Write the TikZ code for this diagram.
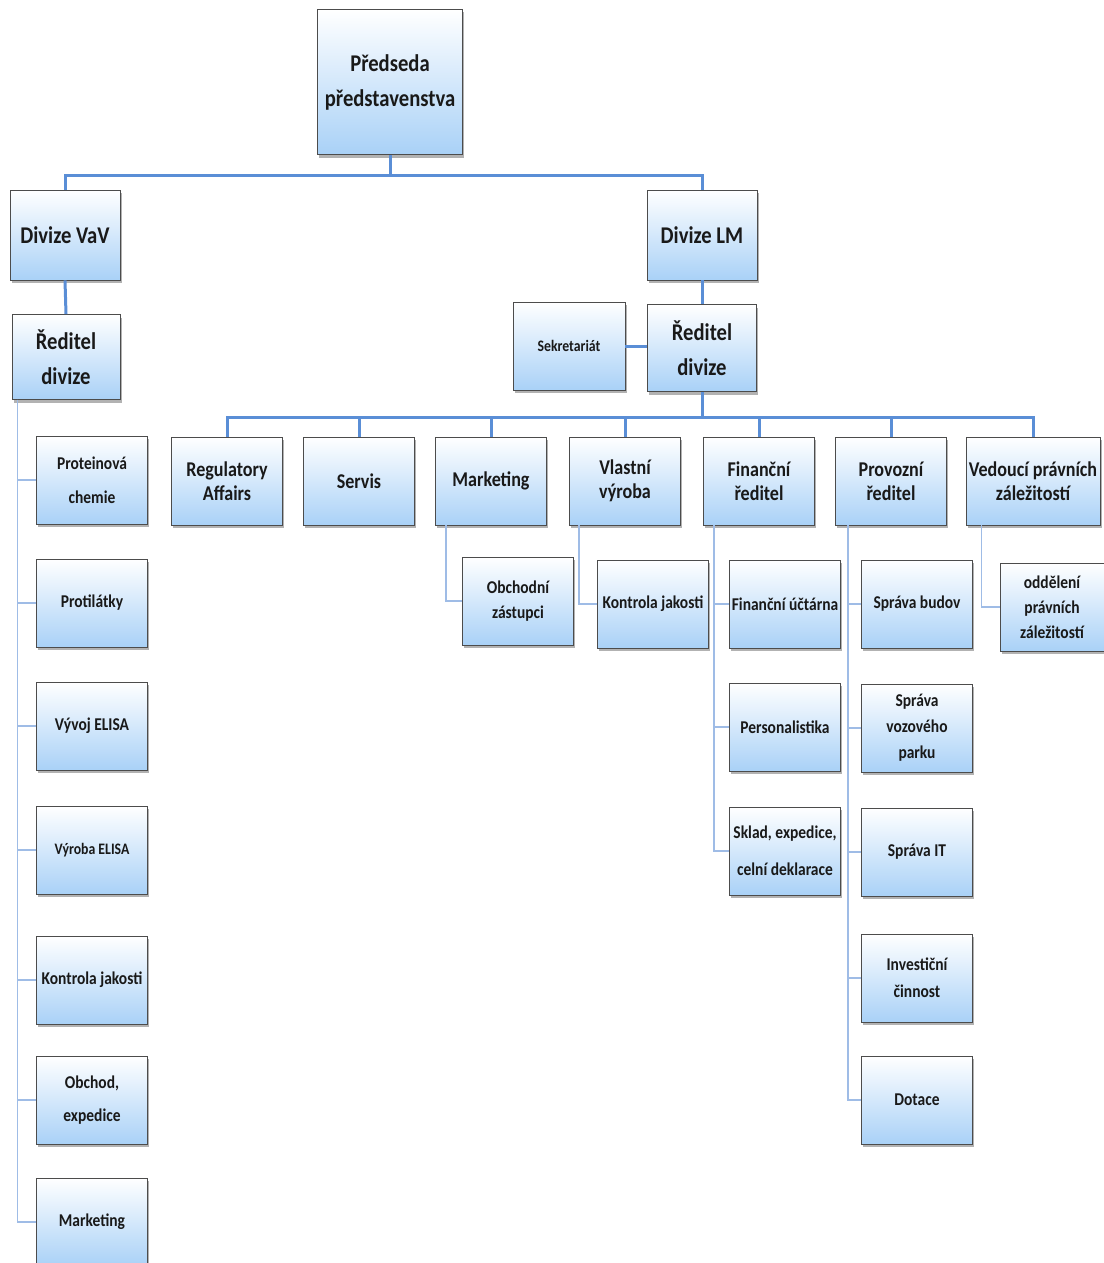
\documentclass[tikz,border=0pt]{standalone}
\usepackage{fontspec}
\setmainfont{Carlito}[FakeStretch=0.86]
\usetikzlibrary{shadows}
\definecolor{boxblue}{HTML}{A9D1F7}
\definecolor{linemain}{HTML}{5A8ED6}
\definecolor{linesub}{HTML}{9FBCE6}
\tikzset{
  orgbox/.style={draw=black!70, line width=0.9pt, top color=white, bottom color=boxblue,
    minimum width=111pt, minimum height=88pt, align=center, inner sep=1pt, text=black!90,
    drop shadow={shadow xshift=1.5pt, shadow yshift=-3pt, fill=black!55, opacity=0.55}},
  bigtxt/.style={font=\fontsize{24}{35}\selectfont\bfseries},
  midtxt/.style={font=\fontsize{21}{28}\selectfont\bfseries},
  subtxt/.style={font=\fontsize{18}{34}\selectfont\bfseries},
  tinytxt/.style={font=\fontsize{16}{20}\selectfont\bfseries},
  mainline/.style={draw=linemain, line width=3pt},
  subline/.style={draw=linesub, line width=1.6pt},
}
\begin{document}
\begin{tikzpicture}[x=1pt,y=-1pt]
\useasboundingbox (0,0) rectangle (1103,1263);

% top levels
\node[orgbox,bigtxt,minimum width=145pt,minimum height=145pt] (pred) at (390,82) {Předseda\\představenstva};
\node[orgbox,bigtxt,minimum width=110pt,minimum height=90pt] (vav) at (65,235) {Divize VaV};
\node[orgbox,bigtxt,minimum width=110pt,minimum height=90pt] (lm) at (702,235) {Divize LM};
\node[orgbox,bigtxt,minimum width=108pt,minimum height=85pt] (rdl) at (66,357) {Ředitel\\divize};
\node[orgbox,bigtxt,minimum width=109pt,minimum height=87pt] (rdr) at (702,348) {Ředitel\\divize};
\node[orgbox,tinytxt,minimum width=112pt,minimum height=88pt] (sek) at (569,346) {Sekretariát};

% second row under the LM director
\node[orgbox,midtxt] (ra)  at (227,481) {Regulatory\\[-4pt]Affairs};
\node[orgbox,midtxt] (ser) at (359,481) {Servis};
\node[orgbox,midtxt] (mkt) at (491,481) {Marketing};
\node[orgbox,midtxt] (vv)  at (625,481) {Vlastní\\[-4pt]výroba};
\node[orgbox,midtxt] (fr)  at (759,481) {Finanční\\[-4pt]ředitel};
\node[orgbox,midtxt] (pr)  at (891,481) {Provozní\\[-4pt]ředitel};
\node[orgbox,midtxt,minimum width=134pt] (ved) at (1033,481) {Vedoucí právních\\[-4pt]záležitostí};

% VaV departments
\node[orgbox,subtxt] (pch) at (92,480)  {Proteinová\\chemie};
\node[orgbox,subtxt] (ptl) at (92,603)  {Protilátky};
\node[orgbox,subtxt] (vje) at (92,726)  {Vývoj ELISA};
\node[orgbox,subtxt,font=\fontsize{16}{20}\selectfont\bfseries] (vye) at (92,850) {Výroba ELISA};
\node[orgbox,subtxt] (kjl) at (92,980)  {Kontrola jakosti};
\node[orgbox,subtxt,font=\fontsize{18}{33}\selectfont\bfseries] (obe) at (92,1100) {Obchod,\\expedice};
\node[orgbox,subtxt] (mkl) at (92,1222) {Marketing};

% LM departments
\node[orgbox,subtxt,font=\fontsize{18}{25}\selectfont\bfseries] (oz)  at (518,601) {Obchodní\\zástupci};
\node[orgbox,subtxt] (kjr) at (653,604) {Kontrola jakosti};
\node[orgbox,subtxt] (fu)  at (785,604) {Finanční účtárna};
\node[orgbox,subtxt] (per) at (785,727) {Personalistika};
\node[orgbox,subtxt,font=\fontsize{18}{37}\selectfont\bfseries] (skl) at (785,851) {Sklad, expedice,\\celní deklarace};
\node[orgbox,subtxt] (sb)  at (917,604) {Správa budov};
\node[orgbox,subtxt,font=\fontsize{18}{26}\selectfont\bfseries] (svp) at (917,728) {Správa\\vozového\\parku};
\node[orgbox,subtxt] (sit) at (917,852) {Správa IT};
\node[orgbox,subtxt,font=\fontsize{18}{27}\selectfont\bfseries] (inv) at (917,978) {Investiční\\činnost};
\node[orgbox,subtxt] (dot) at (917,1100) {Dotace};
\node[orgbox,subtxt,minimum width=104pt,font=\fontsize{18}{25}\selectfont\bfseries] (opz) at (1052,607) {oddělení\\právních\\záležitostí};

% trunk connectors
\coordinate (bar1) at (390,175);
\coordinate (bar2) at (702,417);
\draw[mainline] (pred.south) -- (bar1);
\draw[mainline] (vav.north) |- (bar1) -| (lm.north);
\draw[mainline] (vav.south) -- (rdl.north);
\draw[mainline] (lm.south) -- (rdr.north);
\draw[mainline] (sek.east) -- (sek.east -| rdr.west);
\draw[mainline] (rdr.south) -- (bar2);
\draw[mainline] (ra.north) |- (bar2) -| (ved.north);
\foreach \n in {ser,mkt,vv,fr,pr}
  \draw[mainline] (bar2 -| \n.north) -- (\n.north);

% branch connectors
\foreach \n in {pch,ptl,vje,vye,kjl,obe,mkl}
  \draw[subline] ([xshift=6pt]rdl.south west) |- (\n.west);
\draw[subline] ([xshift=11pt]mkt.south west) |- (oz.west);
\draw[subline] ([xshift=10pt]vv.south west) |- (kjr.west);
\foreach \n in {fu,per,skl}
  \draw[subline] ([xshift=11pt]fr.south west) |- (\n.west);
\foreach \n in {sb,svp,sit,inv,dot}
  \draw[subline] ([xshift=13pt]pr.south west) |- (\n.west);
\draw[subline] ([xshift=16pt]ved.south west) |- (opz.west);
\end{tikzpicture}
\end{document}
